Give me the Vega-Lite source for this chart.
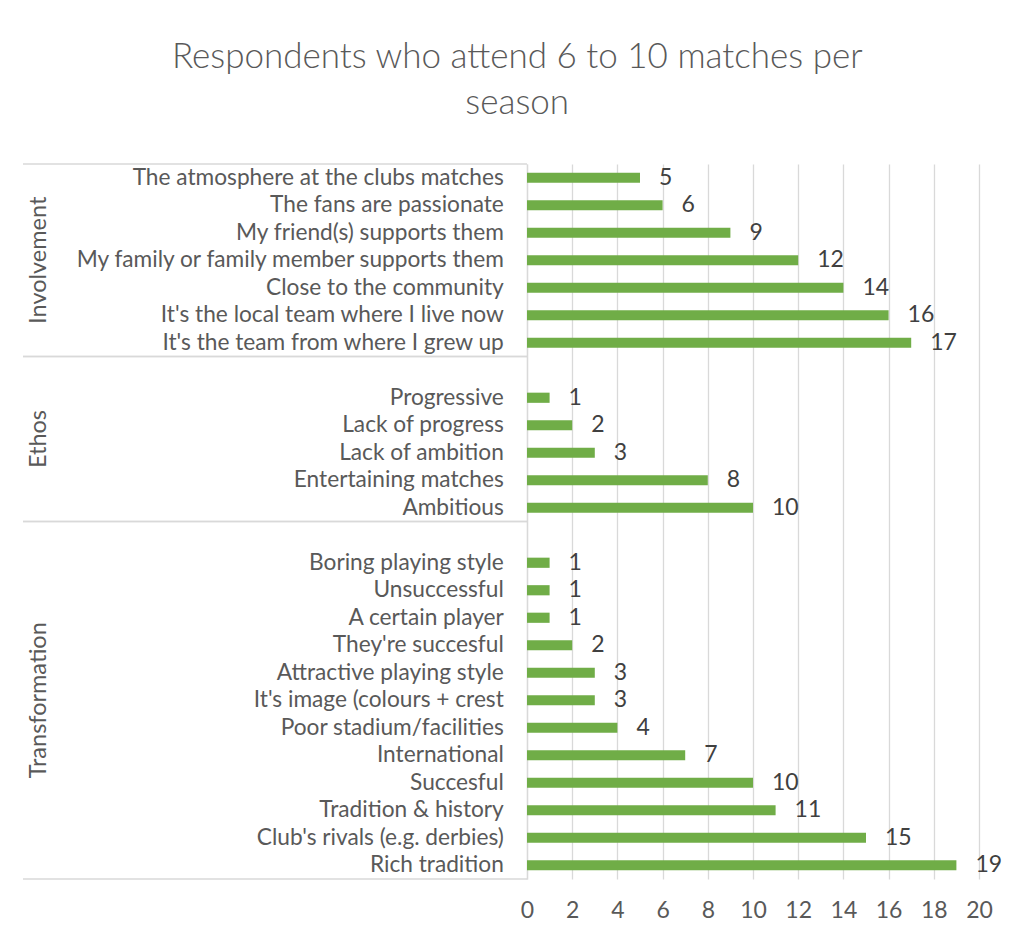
{
  "$schema": "https://vega.github.io/schema/vega-lite/v6.json",
  "padding": {"left": 22, "top": 40, "right": 10, "bottom": 10},
  "background": "white",
  "bounds": "flush",
  "title": {"text": ["Respondents who attend 6 to 10 matches per", "season"], "fontSize": 35, "font": "Lato", "fontWeight": 300, "color": "#595959", "lineHeight": 46, "offset": 42, "anchor": "middle", "dx": 5},
  "config": {"view": {"stroke": null}, "font": "Lato"},
  "spacing": 0,
  "datasets": {
    "items": [
      {"group": "Involvement", "item": "The atmosphere at the clubs matches", "n": 5},
      {"group": "Involvement", "item": "The fans are passionate", "n": 6},
      {"group": "Involvement", "item": "My friend(s) supports them", "n": 9},
      {"group": "Involvement", "item": "My family or family member supports them", "n": 12},
      {"group": "Involvement", "item": "Close to the community", "n": 14},
      {"group": "Involvement", "item": "It's the local team where I live now", "n": 16},
      {"group": "Involvement", "item": "It's the team from where I grew up", "n": 17},
      {"group": "Ethos", "item": "Progressive", "n": 1},
      {"group": "Ethos", "item": "Lack of progress", "n": 2},
      {"group": "Ethos", "item": "Lack of ambition", "n": 3},
      {"group": "Ethos", "item": "Entertaining matches", "n": 8},
      {"group": "Ethos", "item": "Ambitious", "n": 10},
      {"group": "Transformation", "item": "Boring playing style", "n": 1},
      {"group": "Transformation", "item": "Unsuccessful", "n": 1},
      {"group": "Transformation", "item": "A certain player", "n": 1},
      {"group": "Transformation", "item": "They're succesful", "n": 2},
      {"group": "Transformation", "item": "Attractive playing style", "n": 3},
      {"group": "Transformation", "item": "It's image (colours + crest", "n": 3},
      {"group": "Transformation", "item": "Poor stadium/facilities", "n": 4},
      {"group": "Transformation", "item": "International", "n": 7},
      {"group": "Transformation", "item": "Succesful", "n": 10},
      {"group": "Transformation", "item": "Tradition & history", "n": 11},
      {"group": "Transformation", "item": "Club's rivals (e.g. derbies)", "n": 15},
      {"group": "Transformation", "item": "Rich tradition", "n": 19}
    ],
    "groups": [
      {"group": "Involvement", "first": "The atmosphere at the clubs matches", "last": "It's the team from where I grew up", "mid": "My family or family member supports them"},
      {"group": "Ethos", "first": "blank1", "last": "Ambitious", "mid": "Lack of ambition"},
      {"group": "Transformation", "first": "blank2", "last": "Rich tradition", "mid": "It's image (colours + crest"}
    ]
  },
  "hconcat": [
    {
      "width": 504,
      "height": 715,
      "layer": [
        {
          "data": {"name": "groups"},
          "mark": {"type": "rule", "color": "#d9d9d9", "strokeWidth": 1.3},
          "encoding": {
            "y": {"field": "first", "type": "nominal", "bandPosition": 0, "axis": null, "scale": {"padding": 0, "domain": ["The atmosphere at the clubs matches", "The fans are passionate", "My friend(s) supports them", "My family or family member supports them", "Close to the community", "It's the local team where I live now", "It's the team from where I grew up", "blank1", "Progressive", "Lack of progress", "Lack of ambition", "Entertaining matches", "Ambitious", "blank2", "Boring playing style", "Unsuccessful", "A certain player", "They're succesful", "Attractive playing style", "It's image (colours + crest", "Poor stadium/facilities", "International", "Succesful", "Tradition & history", "Club's rivals (e.g. derbies)", "Rich tradition"]}},
            "x": {"datum": 0, "type": "quantitative", "axis": null, "scale": {"domain": [0, 1]}},
            "x2": {"datum": 1}
          }
        },
        {
          "data": {"name": "groups"},
          "mark": {"type": "rule", "color": "#d9d9d9", "strokeWidth": 1.3},
          "encoding": {
            "y": {"field": "last", "type": "nominal", "bandPosition": 1, "axis": null, "scale": {"padding": 0, "domain": ["The atmosphere at the clubs matches", "The fans are passionate", "My friend(s) supports them", "My family or family member supports them", "Close to the community", "It's the local team where I live now", "It's the team from where I grew up", "blank1", "Progressive", "Lack of progress", "Lack of ambition", "Entertaining matches", "Ambitious", "blank2", "Boring playing style", "Unsuccessful", "A certain player", "They're succesful", "Attractive playing style", "It's image (colours + crest", "Poor stadium/facilities", "International", "Succesful", "Tradition & history", "Club's rivals (e.g. derbies)", "Rich tradition"]}},
            "x": {"datum": 0, "type": "quantitative", "axis": null, "scale": {"domain": [0, 1]}},
            "x2": {"datum": 1}
          }
        },
        {
          "data": {"name": "groups"},
          "transform": [{"filter": "datum.group !== 'Ethos'"}],
          "mark": {"type": "text", "angle": 270, "align": "center", "baseline": "middle", "fontSize": 23.5, "color": "#595959"},
          "encoding": {
            "y": {"field": "mid", "type": "nominal", "axis": null, "scale": {"padding": 0, "domain": ["The atmosphere at the clubs matches", "The fans are passionate", "My friend(s) supports them", "My family or family member supports them", "Close to the community", "It's the local team where I live now", "It's the team from where I grew up", "blank1", "Progressive", "Lack of progress", "Lack of ambition", "Entertaining matches", "Ambitious", "blank2", "Boring playing style", "Unsuccessful", "A certain player", "They're succesful", "Attractive playing style", "It's image (colours + crest", "Poor stadium/facilities", "International", "Succesful", "Tradition & history", "Club's rivals (e.g. derbies)", "Rich tradition"]}},
            "x": {"datum": 0.032, "type": "quantitative", "axis": null, "scale": {"domain": [0, 1]}},
            "text": {"field": "group"}
          }
        },
        {
          "data": {"name": "groups"},
          "transform": [{"filter": "datum.group === 'Ethos'"}],
          "mark": {"type": "text", "angle": 270, "align": "center", "baseline": "middle", "fontSize": 23.5, "color": "#595959"},
          "encoding": {
            "y": {"field": "mid", "type": "nominal", "bandPosition": 0, "axis": null, "scale": {"padding": 0, "domain": ["The atmosphere at the clubs matches", "The fans are passionate", "My friend(s) supports them", "My family or family member supports them", "Close to the community", "It's the local team where I live now", "It's the team from where I grew up", "blank1", "Progressive", "Lack of progress", "Lack of ambition", "Entertaining matches", "Ambitious", "blank2", "Boring playing style", "Unsuccessful", "A certain player", "They're succesful", "Attractive playing style", "It's image (colours + crest", "Poor stadium/facilities", "International", "Succesful", "Tradition & history", "Club's rivals (e.g. derbies)", "Rich tradition"]}},
            "x": {"datum": 0.032, "type": "quantitative", "axis": null, "scale": {"domain": [0, 1]}},
            "text": {"field": "group"}
          }
        },
        {
          "data": {"name": "items"},
          "mark": {"type": "text", "align": "right", "baseline": "middle", "fontSize": 22.7, "color": "#595959"},
          "encoding": {
            "y": {"field": "item", "type": "nominal", "axis": null, "scale": {"padding": 0, "domain": ["The atmosphere at the clubs matches", "The fans are passionate", "My friend(s) supports them", "My family or family member supports them", "Close to the community", "It's the local team where I live now", "It's the team from where I grew up", "blank1", "Progressive", "Lack of progress", "Lack of ambition", "Entertaining matches", "Ambitious", "blank2", "Boring playing style", "Unsuccessful", "A certain player", "They're succesful", "Attractive playing style", "It's image (colours + crest", "Poor stadium/facilities", "International", "Succesful", "Tradition & history", "Club's rivals (e.g. derbies)", "Rich tradition"]}},
            "x": {"datum": 0.954, "type": "quantitative", "axis": null, "scale": {"domain": [0, 1]}},
            "text": {"field": "item"}
          }
        }
      ]
    },
    {
      "width": 452,
      "height": 715,
      "data": {"name": "items"},
      "encoding": {
        "y": {"field": "item", "type": "nominal", "scale": {"padding": 0, "domain": ["The atmosphere at the clubs matches", "The fans are passionate", "My friend(s) supports them", "My family or family member supports them", "Close to the community", "It's the local team where I live now", "It's the team from where I grew up", "blank1", "Progressive", "Lack of progress", "Lack of ambition", "Entertaining matches", "Ambitious", "blank2", "Boring playing style", "Unsuccessful", "A certain player", "They're succesful", "Attractive playing style", "It's image (colours + crest", "Poor stadium/facilities", "International", "Succesful", "Tradition & history", "Club's rivals (e.g. derbies)", "Rich tradition"]}, "axis": {"labels": false, "ticks": false, "domain": true, "domainColor": "#d9d9d9", "domainWidth": 1.3, "title": null, "grid": false, "minExtent": 0, "maxExtent": 0}},
        "x": {"field": "n", "type": "quantitative", "scale": {"domain": [0, 20], "nice": false}, "axis": {"values": [0, 2, 4, 6, 8, 10, 12, 14, 16, 18, 20], "grid": true, "gridColor": "#d9d9d9", "gridWidth": 1.3, "ticks": false, "domain": false, "labelFlush": false, "labelOverlap": false, "labelFontSize": 23, "labelColor": "#595959", "labelPadding": 20, "title": null}}
      },
      "layer": [
        {"mark": {"type": "bar", "color": "#70AD47", "height": {"band": 0.37}}},
        {"mark": {"type": "text", "align": "left", "baseline": "middle", "dx": 19, "fontSize": 23, "color": "#404040"}, "encoding": {"text": {"field": "n", "type": "quantitative"}}}
      ]
    }
  ],
  "resolve": {"scale": {"y": "shared"}}
}
